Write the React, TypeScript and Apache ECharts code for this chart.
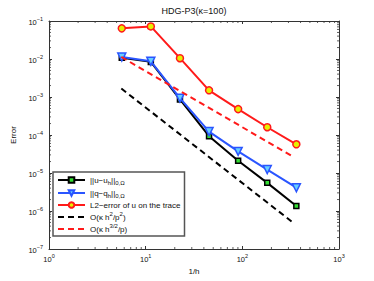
import React, { useEffect, useRef } from "react";
import * as echarts from "echarts";

const invH = [5.66, 11.31, 22.63, 45.25, 90.51, 181.02, 362.04];
const errU = [0.0108, 0.0084, 8.6e-4, 9.3e-5, 2.1e-5, 5.5e-6, 1.35e-6];
const errQ = [0.0113, 0.0087, 9.3e-4, 1.23e-4, 3.7e-5, 1.23e-5, 4.1e-6];
const errTrace = [0.064, 0.072, 0.0105, 0.0015, 4.8e-4, 1.6e-4, 5.7e-5];
const rate1X = [5.6, 336];
const rate1Y = [1.67e-3, 4.9e-7];
const rate2X = [5.6, 324];
const rate2Y = [0.0113, 2.83e-5];
const seriesNames = ["uerr", "qerr", "trace", "rate1", "rate2"];
const legendLabels = [
  "{b|||u\u2212u}{sub|h}{b|||}{sub|0,\u03a9}",
  "{b|||q\u2212q}{sub|h}{b|||}{sub|0,\u03a9}",
  "{b|L2\u2212error of u on the trace}",
  "{b|O(\u03ba h}{sup|2}{b|/p}{sup|2}{b|)}",
  "{b|O(\u03ba h}{sup|3/2}{b|/p)}",
];
const minorMult = [2, 3, 4, 5, 6, 7, 8, 9];
const xDecades = [1, 10, 100];
const yDecades = [1e-7, 1e-6, 1e-5, 1e-4, 1e-3, 1e-2];

const FONT = "Liberation Sans, Arial, Helvetica, sans-serif";

export default function App() {
  const ref = useRef<HTMLDivElement>(null);
  useEffect(() => {
    if (!ref.current) return;
    const chart = echarts.init(ref.current, undefined, { renderer: "svg" });

    const xMinor: number[][] = [];
    xDecades.forEach((d) => minorMult.forEach((m) => xMinor.push([d * m, 1e-7])));
    const yMinor: number[][] = [];
    yDecades.forEach((d) => minorMult.forEach((m) => yMinor.push([1, d * m])));

    const expLabel = (v: number) => {
      const e = Math.round(Math.log10(v));
      return `{b|10}{s|${e < 0 ? "\u2212" + -e : e}}`;
    };
    const tickRich = {
      b: { fontSize: 7.5, fontFamily: FONT, color: "#111", lineHeight: 10, verticalAlign: "bottom" },
      s: { fontSize: 5.5, fontFamily: FONT, color: "#111", lineHeight: 6, verticalAlign: "top" },
    };

    const axisLineStyle = { color: "#333", width: 1 };

    const mk = (v: number[], xs: number[]) => v.map((y, i) => [xs[i], y]);

    const minorTickRender = (isX: boolean) => (params: any, api: any) => {
      const cs = params.coordSys;
      const pt = api.coord([api.value(0), api.value(1)]);
      const style = { stroke: "#333", lineWidth: 0.8 };
      if (isX) {
        const b = cs.y + cs.height;
        return {
          type: "group",
          children: [
            { type: "line", shape: { x1: pt[0], y1: b, x2: pt[0], y2: b - 2 }, style },
            { type: "line", shape: { x1: pt[0], y1: cs.y, x2: pt[0], y2: cs.y + 2 }, style },
          ],
        };
      }
      const r = cs.x + cs.width;
      return {
        type: "group",
        children: [
          { type: "line", shape: { x1: cs.x, y1: pt[1], x2: cs.x + 2, y2: pt[1] }, style },
          { type: "line", shape: { x1: r, y1: pt[1], x2: r - 2, y2: pt[1] }, style },
        ],
      };
    };

    const hiddenSym = { color: "rgba(0,0,0,0)", borderColor: "rgba(0,0,0,0)", borderWidth: 0, opacity: 0 };

    const option: any = {
      animation: false,
      backgroundColor: "#fff",
      textStyle: { fontFamily: FONT },
      graphic: [
        {
          type: "text",
          x: 194,
          y: 11,
          style: {
            text: "HDG-P3(\u03ba=100)",
            fontSize: 9,
            fontFamily: FONT,
            fill: "#111",
            textAlign: "center",
            textVerticalAlign: "middle",
          },
        },
      ],
      grid: { left: 49, top: 21, width: 290, height: 228, containLabel: false },
      xAxis: [
        {
          type: "log",
          logBase: 10,
          min: 1,
          max: 1000,
          splitNumber: 3,
          name: "1/h",
          nameLocation: "middle",
          nameGap: 14,
          nameTextStyle: { fontSize: 8, fontFamily: FONT, color: "#111" },
          axisLine: { show: true, lineStyle: axisLineStyle },
          axisTick: { show: true, inside: true, length: 3, lineStyle: axisLineStyle },
          axisLabel: { formatter: expLabel, rich: tickRich, margin: 4 },
          splitLine: { show: false },
          minorTick: { show: false },
        },
        {
          type: "log",
          logBase: 10,
          min: 1,
          max: 1000,
          splitNumber: 3,
          position: "top",
          axisLine: { show: true, lineStyle: axisLineStyle },
          axisTick: { show: true, inside: true, length: 3, lineStyle: axisLineStyle },
          axisLabel: { show: false },
          splitLine: { show: false },
        },
      ],
      yAxis: [
        {
          type: "log",
          logBase: 10,
          min: 1e-7,
          max: 1e-1,
          splitNumber: 6,
          name: "Error",
          nameLocation: "middle",
          nameGap: 27,
          nameTextStyle: { fontSize: 8, fontFamily: FONT, color: "#111" },
          axisLine: { show: true, lineStyle: axisLineStyle },
          axisTick: { show: true, inside: true, length: 3, lineStyle: axisLineStyle },
          axisLabel: { formatter: expLabel, rich: tickRich, margin: 6 },
          splitLine: { show: false },
        },
        {
          type: "log",
          logBase: 10,
          min: 1e-7,
          max: 1e-1,
          splitNumber: 6,
          position: "right",
          axisLine: { show: true, lineStyle: axisLineStyle },
          axisTick: { show: true, inside: true, length: 3, lineStyle: axisLineStyle },
          axisLabel: { show: false },
          splitLine: { show: false },
        },
      ],
      legend: {
        data: [
          { name: "uerr" },
          { name: "qerr" },
          { name: "trace" },
          { name: "rate1", itemStyle: hiddenSym },
          { name: "rate2", itemStyle: hiddenSym },
        ],
        orient: "vertical",
        left: 53,
        top: 172,
        width: 139,
        padding: [3, 4, 3, 4],
        itemGap: 2,
        itemWidth: 27,
        itemHeight: 7,
        backgroundColor: "#fff",
        borderColor: "#555",
        borderWidth: 1.5,
        borderRadius: 0,
        formatter: (name: string) => legendLabels[seriesNames.indexOf(name)],
        textStyle: {
          fontSize: 8,
          fontFamily: FONT,
          color: "#111",
          rich: {
            b: { fontSize: 8, fontFamily: FONT, color: "#111", lineHeight: 12, verticalAlign: "middle" },
            sub: { fontSize: 6, fontFamily: FONT, color: "#111", lineHeight: 6, verticalAlign: "bottom", padding: [5, 0, 0, 0] },
            sup: { fontSize: 6, fontFamily: FONT, color: "#111", lineHeight: 6, verticalAlign: "top" },
          },
        },
      },
      series: [
        {
          name: "uerr",
          type: "line",
          data: mk(errU, invH),
          symbol: "rect",
          symbolSize: 5,
          lineStyle: { color: "#000", width: 2 },
          itemStyle: { color: "#33dd33", borderColor: "#000", borderWidth: 1.5 },
          z: 3,
        },
        {
          name: "qerr",
          type: "line",
          data: mk(errQ, invH),
          symbol: "triangle",
          symbolRotate: 180,
          symbolSize: 8,
          lineStyle: { color: "#2a55ff", width: 2 },
          itemStyle: { color: "#66d0ff", borderColor: "#2a55ff", borderWidth: 1.5 },
          z: 4,
        },
        {
          name: "trace",
          type: "line",
          data: mk(errTrace, invH),
          symbol: "circle",
          symbolSize: 7,
          lineStyle: { color: "#ff1a1a", width: 2 },
          itemStyle: { color: "#e6f000", borderColor: "#ff1a1a", borderWidth: 1.5 },
          z: 5,
        },
        {
          name: "rate1",
          type: "line",
          data: mk(rate1Y, rate1X),
          symbol: "none",
          lineStyle: { color: "#000", width: 2, type: [6, 4] },
          itemStyle: { color: "#000" },
          z: 6,
        },
        {
          name: "rate2",
          type: "line",
          data: mk(rate2Y, rate2X),
          symbol: "none",
          lineStyle: { color: "#ff1a1a", width: 2, type: [6, 4] },
          itemStyle: { color: "#ff1a1a" },
          z: 7,
        },
        {
          name: "xminor",
          type: "custom",
          renderItem: minorTickRender(true),
          data: xMinor,
          silent: true,
          clip: false,
          z: 1,
        },
        {
          name: "yminor",
          type: "custom",
          renderItem: minorTickRender(false),
          data: yMinor,
          silent: true,
          clip: false,
          z: 1,
        },
      ],
    };
    chart.setOption(option);
    return () => chart.dispose();
  }, []);
  return (
    <div
      ref={ref}
      style={{ position: "fixed", left: 0, top: 0, width: 374, height: 281, background: "#fff" }}
    />
  );
}
